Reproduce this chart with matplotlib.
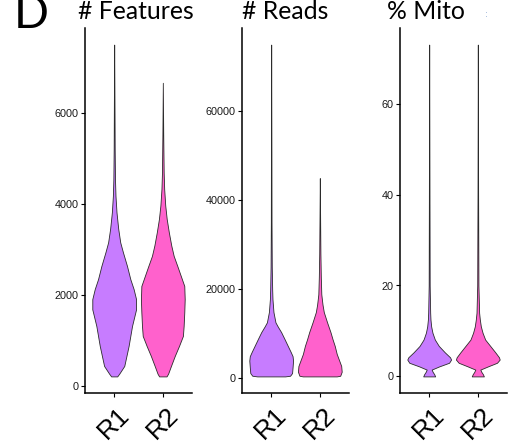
import matplotlib
matplotlib.use("Agg")
import matplotlib.pyplot as plt
import numpy as np

groups = ["R1", "R2"]
colors = ["#C77CFF", "#FF61CC"]

# violin outlines: value along y, half-width (relative units)
feat_r1_y = [200, 260, 430, 870, 1310, 1675, 1900, 2120, 2340, 2630, 2930, 3150, 3450, 3810, 4170, 4540, 5200, 6200, 7500]
feat_r1_w = [3, 5, 10, 14.3, 17.7, 21.7, 21.7, 19.3, 16, 12.7, 8.7, 6, 4, 2.3, 1.3, 0.8, 0.5, 0.3, 0]
feat_r2_y = [200, 260, 430, 650, 870, 1090, 1310, 1610, 1900, 2190, 2410, 2630, 2850, 3080, 3370, 3660, 3960, 4320, 4690, 5500, 6660]
feat_r2_w = [3.5, 5, 7.7, 11.3, 15.3, 19, 19.7, 20.3, 20.7, 20.3, 17, 13.7, 10.3, 8, 5.7, 3.7, 2.3, 1.3, 0.8, 0.4, 0]

reads_r1_y = [450, 600, 1200, 2500, 4000, 5000, 6000, 7300, 8800, 10400, 11700, 12600, 14900, 17800, 20000, 25000, 35000, 50000, 75000]
reads_r1_w = [14, 19, 21, 21.5, 22, 21.5, 19.5, 16.7, 13.5, 10, 6.5, 4.3, 2.3, 1.3, 1, 0.6, 0.35, 0.25, 0]
reads_r2_y = [450, 600, 1500, 2800, 4000, 5500, 7300, 8800, 10400, 12600, 14900, 16600, 18900, 22700, 28000, 35000, 45000]
reads_r2_w = [17, 20.5, 22, 21.5, 19.5, 17, 15, 12.8, 10.7, 7.3, 4, 2.7, 1.5, 1, 0.6, 0.35, 0]

mito_r1_y = [0, 0.5, 1.0, 1.5, 2.2, 3.0, 3.7, 4.2, 5.3, 6.7, 8.1, 9.6, 11, 12.5, 14, 20, 40, 73]
mito_r1_w = [6, 5, 3.5, 2.5, 10, 20, 22, 21, 15.7, 9.7, 5.7, 3.3, 2, 1.3, 1, 0.5, 0.3, 0]
mito_r2_y = [0, 0.5, 1.0, 1.5, 2.2, 3.0, 3.7, 4.2, 5.3, 6.7, 8.1, 9.6, 11, 12.5, 14, 20, 40, 73]
mito_r2_w = [6, 5, 3.5, 2.5, 10, 19, 21.7, 21, 17.3, 12.3, 7.3, 4.7, 3, 2, 1.3, 0.6, 0.3, 0]

panels = [
    ("# Features", [(feat_r1_y, feat_r1_w), (feat_r2_y, feat_r2_w)], [0, 2000, 4000, 6000], 78),
    ("# Reads", [(reads_r1_y, reads_r1_w), (reads_r2_y, reads_r2_w)], [0, 20000, 40000, 60000], 242),
    ("% Mito", [(mito_r1_y, mito_r1_w), (mito_r2_y, mito_r2_w)], [0, 20, 40, 60], 387),
]

W, H = 508, 444
fig = plt.figure(figsize=(W / 100, H / 100), dpi=100)
axes_left = [85, 242, 400]

for (title, violins, ticks, title_x), left in zip(panels, axes_left):
    ax = fig.add_axes([left / W, 51 / H, 107 / W, 365 / H])
    lo = min(min(v[0]) for v in violins)
    hi = max(max(v[0]) for v in violins)
    pad = (hi - lo) * 0.05
    for i, (yv, wv) in enumerate(violins):
        y = np.array(yv, dtype=float)
        w = np.array(wv, dtype=float)
        w = w / w.max() * 0.45
        pos = i + 1
        ax.fill_betweenx(y, pos - w, pos + w, facecolor=colors[i],
                         edgecolor="#2b2b2b", linewidth=0.6)
    ax.set_xlim(0.4, 2.6)
    ax.set_ylim(lo - pad, hi + pad)
    ax.set_yticks(ticks)
    ax.set_yticklabels([str(t) for t in ticks], fontsize=7.8,
                       family="Liberation Sans", color="#1a1a1a")
    ax.set_xticks([1, 2])
    ax.set_xticklabels(groups, fontsize=19, family="Liberation Sans",
                       rotation=45, ha="center", va="top")
    ax.tick_params(axis="y", length=3, width=0.8, pad=1.5)
    ax.tick_params(axis="x", length=3, width=0.8, pad=4)
    for s in ["top", "right"]:
        ax.spines[s].set_visible(False)
    for s in ["left", "bottom"]:
        ax.spines[s].set_linewidth(1.1)
    ax.set_facecolor("none")
    fig.text(title_x / W, 1 - 19 / H, title, fontsize=17.8, family="Lato",
             ha="left", va="baseline")

fig.text(14 / W, 1 - 28 / H, "D", fontsize=33, family="Lato", ha="left", va="baseline")
fig.text(486 / W, 1 - 17 / H, ":", fontsize=6, color="#7a9ccc", ha="center", va="baseline")

fig.savefig("out.png", dpi=100)
